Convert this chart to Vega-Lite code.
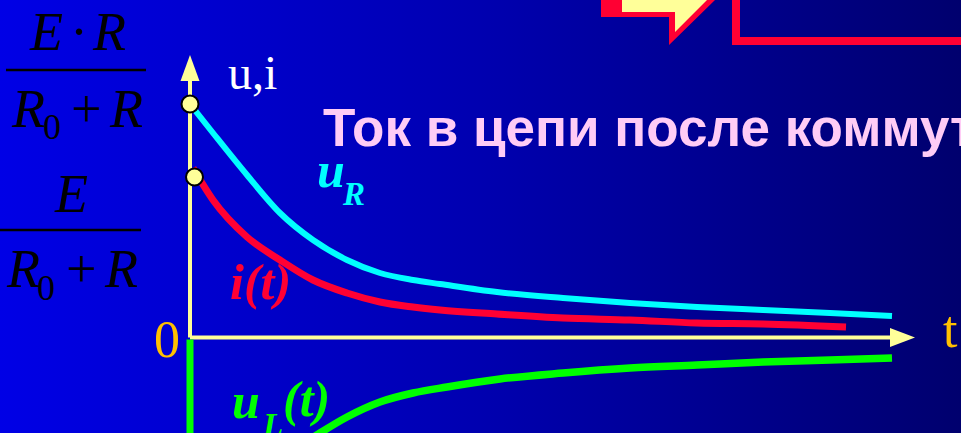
{
  "$schema": "https://vega.github.io/schema/vega-lite/v6.json",
  "width": 961,
  "height": 433,
  "autosize": "none",
  "padding": 0,
  "background": "#0000a8",
  "config": {
    "view": {
      "stroke": null,
      "fill": {"gradient": "linear", "x1": 0, "y1": 0, "x2": 1, "y2": 0,
        "stops": [{"offset": 0, "color": "#0000e6"}, {"offset": 0.5, "color": "#0000b0"}, {"offset": 1, "color": "#00006e"}]}
    }
  },
  "datasets": {
    "curves": [
      {"series": "uR", "t": 0, "v": 2.335}, {"series": "uR", "t": 0.23, "v": 2.045}, {"series": "uR", "t": 0.57, "v": 1.625},
      {"series": "uR", "t": 0.9, "v": 1.245}, {"series": "uR", "t": 1.23, "v": 0.975}, {"series": "uR", "t": 1.57, "v": 0.775},
      {"series": "uR", "t": 1.9, "v": 0.645}, {"series": "uR", "t": 2.23, "v": 0.575}, {"series": "uR", "t": 2.5, "v": 0.535},
      {"series": "uR", "t": 3.07, "v": 0.455}, {"series": "uR", "t": 3.73, "v": 0.395}, {"series": "uR", "t": 4.4, "v": 0.345},
      {"series": "uR", "t": 5.07, "v": 0.305}, {"series": "uR", "t": 5.73, "v": 0.275}, {"series": "uR", "t": 6.4, "v": 0.245},
      {"series": "uR", "t": 7.02, "v": 0.215},
      {"series": "i", "t": 0.03, "v": 1.695}, {"series": "i", "t": 0.23, "v": 1.375}, {"series": "i", "t": 0.57, "v": 1.005},
      {"series": "i", "t": 0.9, "v": 0.775}, {"series": "i", "t": 1.23, "v": 0.575}, {"series": "i", "t": 1.57, "v": 0.445},
      {"series": "i", "t": 1.9, "v": 0.355}, {"series": "i", "t": 2.23, "v": 0.305}, {"series": "i", "t": 2.5, "v": 0.275},
      {"series": "i", "t": 3.07, "v": 0.235}, {"series": "i", "t": 3.73, "v": 0.195}, {"series": "i", "t": 4.4, "v": 0.175},
      {"series": "i", "t": 5.07, "v": 0.145}, {"series": "i", "t": 5.73, "v": 0.135}, {"series": "i", "t": 6.56, "v": 0.105},
      {"series": "uL", "t": 1.1, "v": -1.085}, {"series": "uL", "t": 1.3, "v": -0.955}, {"series": "uL", "t": 1.57, "v": -0.795},
      {"series": "uL", "t": 1.9, "v": -0.645}, {"series": "uL", "t": 2.23, "v": -0.555}, {"series": "uL", "t": 2.57, "v": -0.495},
      {"series": "uL", "t": 3.1, "v": -0.415}, {"series": "uL", "t": 3.73, "v": -0.355}, {"series": "uL", "t": 4.4, "v": -0.305},
      {"series": "uL", "t": 5.07, "v": -0.275}, {"series": "uL", "t": 5.73, "v": -0.245}, {"series": "uL", "t": 6.4, "v": -0.225},
      {"series": "uL", "t": 7.02, "v": -0.205}
    ],
    "axes": [{"t": 0, "v": 0, "t2": 0, "v2": 2.57}, {"t": 0, "v": 0, "t2": 7.1, "v2": 0}],
    "greenv": [{"t": 0, "v": -0.02, "t2": 0, "v2": -1.1}],
    "fraclines": [{"t": -1.84, "v": 2.675, "t2": -0.44, "v2": 2.675}, {"t": -1.9, "v": 1.075, "t2": -0.49, "v2": 1.075}],
    "box": [{"t": 5.46, "v": 2.965, "t2": 8.2, "v2": 3.7}],
    "arrowRed": [{"t": 4.11, "v": 3.205, "v2": 3.6}, {"t": 4.79, "v": 3.205, "v2": 3.6}, {"t": 4.7905, "v": 2.925, "v2": 3.6}, {"t": 5.25, "v": 3.375, "v2": 3.6}, {"t": 5.4, "v": 3.6, "v2": 3.6}],
    "arrowYellow": [{"t": 4.32, "v": 3.255, "v2": 3.6}, {"t": 4.85, "v": 3.255, "v2": 3.6}, {"t": 4.8505, "v": 3.055, "v2": 3.6}, {"t": 5.17, "v": 3.375, "v2": 3.6}, {"t": 5.3, "v": 3.55, "v2": 3.6}],
    "upArrow": [{"t": 0, "v": 2.695}],
    "rightArrow": [{"t": 7.125, "v": 0}],
    "dots": [{"t": 0, "v": 2.335}, {"t": 0.045, "v": 1.605}],
    "labels": [
      {"grp": "mathIt", "text": "E", "t": -1.6, "v": 2.875},
      {"grp": "mathIt", "text": "R", "t": -0.97, "v": 2.875},
      {"grp": "mathIt", "text": "R", "t": -1.78, "v": 2.105},
      {"grp": "mathIt", "text": "R", "t": -0.8, "v": 2.105},
      {"grp": "mathIt", "text": "E", "t": -1.35, "v": 1.255},
      {"grp": "mathIt", "text": "R", "t": -1.83, "v": 0.505},
      {"grp": "mathIt", "text": "R", "t": -0.85, "v": 0.505},
      {"grp": "mathUp", "text": "·", "t": -1.2, "v": 2.875},
      {"grp": "mathUp", "text": "+", "t": -1.19, "v": 2.105},
      {"grp": "mathUp", "text": "+", "t": -1.24, "v": 0.505},
      {"grp": "mathSub", "text": "0", "t": -1.47, "v": 1.985},
      {"grp": "mathSub", "text": "0", "t": -1.53, "v": 0.375},
      {"grp": "white", "text": "u,i", "t": 0.38, "v": 2.485},
      {"grp": "gold", "text": "0", "t": -0.36, "v": -0.195},
      {"grp": "gold", "text": "t", "t": 7.53, "v": -0.095},
      {"grp": "title", "text": "Ток в цепи после коммутации", "t": 1.33, "v": 1.915},
      {"grp": "cyanBig", "text": "u", "t": 1.27, "v": 1.505},
      {"grp": "cyanSmall", "text": "R", "t": 1.53, "v": 1.325},
      {"grp": "red", "text": "i(t)", "t": 0.4, "v": 0.385},
      {"grp": "greenBig", "text": "u", "t": 0.42, "v": -0.805},
      {"grp": "greenBig", "text": "(t)", "t": 0.93, "v": -0.785},
      {"grp": "greenSmall", "text": "L", "t": 0.73, "v": -0.985}
    ]
  },
  "encoding": {
    "x": {"field": "t", "type": "quantitative", "scale": {"domain": [-1.9, 7.71], "nice": false, "zero": false}, "axis": null},
    "y": {"field": "v", "type": "quantitative", "scale": {"domain": [-0.955, 3.375], "nice": false, "zero": false}, "axis": null}
  },
  "layer": [
    {"data": {"name": "box"}, "mark": {"type": "rect", "filled": false, "stroke": "#ff0033", "strokeWidth": 8},
      "encoding": {"x2": {"field": "t2"}, "y2": {"field": "v2"}}},
    {"data": {"name": "arrowRed"}, "mark": {"type": "area", "color": "#ff0033", "opacity": 1},
      "encoding": {"y2": {"field": "v2"}}},
    {"data": {"name": "arrowYellow"}, "mark": {"type": "area", "color": "#ffff99", "opacity": 1},
      "encoding": {"y2": {"field": "v2"}}},
    {"data": {"name": "fraclines"}, "mark": {"type": "rule", "color": "#000000", "strokeWidth": 2.5},
      "encoding": {"x2": {"field": "t2"}, "y2": {"field": "v2"}}},
    {"data": {"name": "axes"}, "mark": {"type": "rule", "color": "#ffff99", "strokeWidth": 4},
      "encoding": {"x2": {"field": "t2"}, "y2": {"field": "v2"}}},
    {"data": {"name": "upArrow"}, "mark": {"type": "point", "filled": true, "color": "#ffff99", "opacity": 1, "size": 676, "shape": "M0,-1L0.73,1L-0.73,1Z"}},
    {"data": {"name": "rightArrow"}, "mark": {"type": "point", "filled": true, "color": "#ffff99", "opacity": 1, "size": 625, "shape": "M1,0L-1,-0.76L-1,0.76Z"}},
    {"data": {"name": "greenv"}, "mark": {"type": "rule", "color": "#00ff00", "strokeWidth": 7},
      "encoding": {"x2": {"field": "t2"}, "y2": {"field": "v2"}}},
    {"data": {"name": "curves"}, "transform": [{"filter": "datum.series === 'uR'"}],
      "mark": {"type": "line", "color": "#00ffff", "strokeWidth": 6, "interpolate": "monotone"}},
    {"data": {"name": "curves"}, "transform": [{"filter": "datum.series === 'i'"}],
      "mark": {"type": "line", "color": "#ff0033", "strokeWidth": 7, "interpolate": "monotone"}},
    {"data": {"name": "curves"}, "transform": [{"filter": "datum.series === 'uL'"}],
      "mark": {"type": "line", "color": "#00ff00", "strokeWidth": 7.5, "interpolate": "monotone"}},
    {"data": {"name": "dots"}, "mark": {"type": "point", "shape": "circle", "filled": true, "fill": "#ffff99", "stroke": "#000000", "strokeWidth": 2, "opacity": 1, "size": 289}},
    {"data": {"name": "labels"}, "transform": [{"filter": "datum.grp === 'mathIt'"}],
      "mark": {"type": "text", "align": "left", "baseline": "alphabetic", "font": "Liberation Serif", "fontStyle": "italic", "fontSize": 54, "color": "#000000"},
      "encoding": {"text": {"field": "text"}}},
    {"data": {"name": "labels"}, "transform": [{"filter": "datum.grp === 'mathUp'"}],
      "mark": {"type": "text", "align": "left", "baseline": "alphabetic", "font": "Liberation Serif", "fontSize": 54, "color": "#000000"},
      "encoding": {"text": {"field": "text"}}},
    {"data": {"name": "labels"}, "transform": [{"filter": "datum.grp === 'mathSub'"}],
      "mark": {"type": "text", "align": "left", "baseline": "alphabetic", "font": "Liberation Serif", "fontSize": 36, "color": "#000000"},
      "encoding": {"text": {"field": "text"}}},
    {"data": {"name": "labels"}, "transform": [{"filter": "datum.grp === 'white'"}],
      "mark": {"type": "text", "align": "left", "baseline": "alphabetic", "font": "Liberation Serif", "fontSize": 48, "color": "#ffffff"},
      "encoding": {"text": {"field": "text"}}},
    {"data": {"name": "labels"}, "transform": [{"filter": "datum.grp === 'gold'"}],
      "mark": {"type": "text", "align": "left", "baseline": "alphabetic", "font": "Liberation Serif", "fontSize": 52, "color": "#ffc000"},
      "encoding": {"text": {"field": "text"}}},
    {"data": {"name": "labels"}, "transform": [{"filter": "datum.grp === 'title'"}],
      "mark": {"type": "text", "align": "left", "baseline": "alphabetic", "font": "Liberation Sans", "fontWeight": "bold", "fontSize": 53, "color": "#ffccf6"},
      "encoding": {"text": {"field": "text"}}},
    {"data": {"name": "labels"}, "transform": [{"filter": "datum.grp === 'cyanBig'"}],
      "mark": {"type": "text", "align": "left", "baseline": "alphabetic", "font": "Liberation Serif", "fontStyle": "italic", "fontWeight": "bold", "fontSize": 50, "color": "#00ffff"},
      "encoding": {"text": {"field": "text"}}},
    {"data": {"name": "labels"}, "transform": [{"filter": "datum.grp === 'cyanSmall'"}],
      "mark": {"type": "text", "align": "left", "baseline": "alphabetic", "font": "Liberation Serif", "fontStyle": "italic", "fontWeight": "bold", "fontSize": 33, "color": "#00ffff"},
      "encoding": {"text": {"field": "text"}}},
    {"data": {"name": "labels"}, "transform": [{"filter": "datum.grp === 'red'"}],
      "mark": {"type": "text", "align": "left", "baseline": "alphabetic", "font": "Liberation Serif", "fontStyle": "italic", "fontWeight": "bold", "fontSize": 50, "color": "#ff0033"},
      "encoding": {"text": {"field": "text"}}},
    {"data": {"name": "labels"}, "transform": [{"filter": "datum.grp === 'greenBig'"}],
      "mark": {"type": "text", "align": "left", "baseline": "alphabetic", "font": "Liberation Serif", "fontStyle": "italic", "fontWeight": "bold", "fontSize": 50, "color": "#00ff00"},
      "encoding": {"text": {"field": "text"}}},
    {"data": {"name": "labels"}, "transform": [{"filter": "datum.grp === 'greenSmall'"}],
      "mark": {"type": "text", "align": "left", "baseline": "alphabetic", "font": "Liberation Serif", "fontStyle": "italic", "fontWeight": "bold", "fontSize": 33, "color": "#00ff00"},
      "encoding": {"text": {"field": "text"}}}
  ]
}
